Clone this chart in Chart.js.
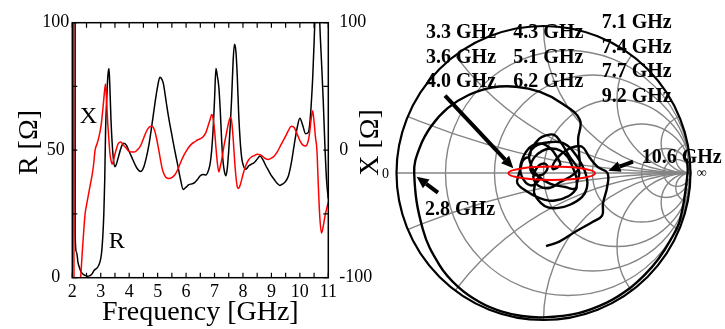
<!DOCTYPE html>
<html>
<head>
<meta charset="utf-8">
<script src="https://cdn.jsdelivr.net/npm/chart.js@4.4.1/dist/chart.umd.min.js"></script>
<style>
  html, body { margin: 0; padding: 0; background: #fff; }
  #wrap { position: relative; width: 725px; height: 329px; overflow: hidden; background: #fff; }
  #zplot { position: absolute; left: 0; top: 0; width: 400px; height: 329px; }
  #smith { position: absolute; left: 370px; top: 0; width: 355px; height: 329px; }
</style>
</head>
<body>
<div id="wrap">
  <canvas id="zplot" width="400" height="329"></canvas>
  <canvas id="smith" width="355" height="329"></canvas>
</div>
<script>
// Input impedance of the antenna, Z = R + jX, versus frequency.
const freqGHz = [
  2.00, 2.05, 2.10, 2.15, 2.20, 2.25, 2.30, 2.35, 2.40, 2.45, 2.50, 2.55, 2.60, 2.65, 2.70, 2.75,
  2.80, 2.87, 2.93, 2.98, 3.02, 3.05, 3.08, 3.11, 3.14, 3.17, 3.21, 3.25, 3.29, 3.32, 3.36, 3.40, 3.45,
  3.50, 3.55, 3.60, 3.65, 3.70, 3.75, 3.80, 3.90, 4.00, 4.10, 4.20, 4.30, 4.40, 4.50, 4.60, 4.70,
  4.80, 4.90, 5.00, 5.08, 5.15, 5.20, 5.30, 5.40, 5.50, 5.60, 5.70, 5.80, 5.90, 6.00, 6.10, 6.20,
  6.30, 6.40, 6.50, 6.60, 6.70, 6.80, 6.85, 6.90, 6.95, 7.00, 7.05, 7.10, 7.15, 7.20, 7.25, 7.30,
  7.35, 7.40, 7.45, 7.50, 7.55, 7.60, 7.65, 7.70, 7.75, 7.80, 7.85, 7.90, 7.95, 8.00, 8.10, 8.20,
  8.30, 8.40, 8.50, 8.60, 8.70, 8.80, 8.90, 9.00, 9.10, 9.20, 9.30, 9.40, 9.50, 9.60, 9.70, 9.80,
  9.90, 10.00, 10.10, 10.20, 10.30, 10.35, 10.40, 10.45, 10.50, 10.55, 10.60, 10.65, 10.70, 10.76,
  10.82, 10.88, 10.94, 11.00
];

// Resistance R [Ohm]
const resistance = [
  195, 5000, 17, 10, 6, 4, 2.5, 1.7, 1.2, 0.9, 0.7, 0.6, 0.7, 1.0, 1.6, 2.6,
  3.2, 3.8, 4.9, 6.5, 8.9, 12.4, 17.7, 25.7, 38.2, 57.8, 70, 79, 82, 75, 62, 53, 46,
  43.5, 44.5, 46.5, 48.5, 50.5, 52, 52.7, 52, 49.5, 47, 44.5, 42.5, 41.6, 43, 47, 52.5,
  60, 68, 75, 78.6, 77.8, 76.2, 69, 62, 56, 50, 44.5, 38.8, 34.6, 35.5, 36.5, 36.8,
  37.3, 38.5, 40, 40.5, 40.3, 42.5, 45, 50, 58, 69.7, 82, 79, 75, 66, 54, 45.5,
  41.5, 40, 43, 50, 59, 70, 84, 91.5, 89, 79, 64, 54, 47.5, 44.5, 42.5, 43.8,
  44.5, 45.2, 46.5, 47.7, 46.3, 44, 42, 40, 38.5, 37, 36.2, 36.8, 37.8, 40, 45, 52,
  58.5, 62.5, 59.8, 56.5, 57, 60.5, 68, 78, 92, 108, 127, 122, 100, 85,
  70, 52, 38, 31
];

// Reactance X [Ohm]
const reactance = [
  950, 0, -300, -200, -150, -120, -98, -80, -64, -50, -43, -37, -31, -25, -19, -11,
  0, 5, 9.9, 15.1, 20.6, 26.8, 33.5, 40.8, 47.8, 51.9, 36, 20, 7, -2, -8, -11, -8,
  -3, 1, 4.5, 6, 6.5, 5.5, 4, 1.5, -1, -1.5, -1.3, 0.5, 3.5, 9, 14.5, 18,
  18.8, 15, 5, -5, -13.5, -17.5, -21.5, -22.2, -21.5, -19.5, -15.5, -10, -5, -1, 2.5, 5,
  6.5, 8, 9, 10.5, 14, 21, 24.5, 28, 25, 16, 2, -10, -17, -13, -7.8, -1,
  5.5, 11, 17, 22, 25.6, 23, 11, -6, -20, -28.7, -30, -27.5, -23.5, -19, -12, -7.5,
  -5.3, -4.2, -3.2, -3.5, -5, -6.8, -7.2, -6.2, -4.5, -1.5, 2.6, 7, 11, 15.5, 18.8, 17.8,
  13, 7.5, 4.2, 3.2, 7.8, 15, 25, 31, 22, 10, 0, -28, -52, -65,
  -60, -52, -46, -41
];

const freqTicks = [2, 3, 4, 5, 6, 7, 8, 9, 10, 11];
const rTicks = [0, 50, 100];
const xTicks = [-100, 0, 100];

// Smith chart grid (normalised resistance circles and reactance arcs)
const smithResistances = [0.2, 0.5, 1, 2, 5, 10];
const smithReactances = [0.2, 0.5, 1, 2, 5, 10];
const Z0 = 50;

// Frequency markers written on the Smith chart
const markerLabels = ['3.3 GHz', '3.6 GHz', '4.0 GHz', '4.3 GHz', '5.1 GHz', '6.2 GHz',
                      '7.1 GHz', '7.4 GHz', '7.7 GHz', '9.2 GHz', '10.6 GHz', '2.8 GHz'];

const SERIF = '"Liberation Serif", "Times New Roman", Times, serif';

// ---------- left panel: R and X versus frequency ----------
const plotLeft = 72.3, plotRight = 328.3, plotTop = 22.7, plotBottom = 277.7;
const zCanvasW = 400, canvasH = 329;

const framePlugin = {
  id: 'frameAndTicks',
  afterDraw(chart) {
    const { ctx, chartArea: ca, scales } = chart;
    ctx.save();
    ctx.strokeStyle = '#000';
    ctx.lineWidth = 1.5;
    ctx.strokeRect(ca.left, ca.top, ca.right - ca.left, ca.bottom - ca.top);
    ctx.lineWidth = 1.2;
    ctx.beginPath();
    for (let v = 2; v <= 11.001; v += 0.5) {
      const p = scales.x.getPixelForValue(v);
      ctx.moveTo(p, ca.bottom); ctx.lineTo(p, ca.bottom - 5);
      ctx.moveTo(p, ca.top); ctx.lineTo(p, ca.top + 5);
    }
    for (let v = 0; v <= 100; v += 25) {
      const p = scales.yR.getPixelForValue(v);
      ctx.moveTo(ca.left, p); ctx.lineTo(ca.left + 5, p);
    }
    for (let v = -100; v <= 100; v += 50) {
      const p = scales.yX.getPixelForValue(v);
      ctx.moveTo(ca.right, p); ctx.lineTo(ca.right - 5, p);
    }
    ctx.stroke();

    // axis titles (both read bottom-to-top)
    ctx.fillStyle = '#000';
    ctx.font = '28px ' + SERIF;
    ctx.textAlign = 'center';
    ctx.textBaseline = 'alphabetic';
    const midY = 142.5;
    ctx.save(); ctx.translate(37, midY); ctx.rotate(-Math.PI / 2); ctx.fillText('R [Ω]', 0, 0); ctx.restore();
    ctx.save(); ctx.translate(378, midY); ctx.rotate(-Math.PI / 2); ctx.fillText('X [Ω]', 0, 0); ctx.restore();

    // curve names inside the plot
    ctx.font = '24px ' + SERIF;
    ctx.textBaseline = 'middle';
    ctx.fillText('X', scales.x.getPixelForValue(2.566), scales.yR.getPixelForValue(63));
    ctx.fillText('R', scales.x.getPixelForValue(3.56), scales.yR.getPixelForValue(14.2));
    ctx.restore();
  }
};

const tickFont = { family: SERIF, size: 18 };

new Chart(document.getElementById('zplot'), {
  type: 'line',
  data: {
    datasets: [
      {
        label: 'X',
        data: freqGHz.map((f, i) => ({ x: f, y: reactance[i] })),
        yAxisID: 'yX',
        borderColor: '#ff0000',
        borderWidth: 1.5,
        pointRadius: 0,
        cubicInterpolationMode: 'monotone'
      },
      {
        label: 'R',
        data: freqGHz.map((f, i) => ({ x: f, y: resistance[i] })),
        yAxisID: 'yR',
        borderColor: '#000000',
        borderWidth: 1.5,
        pointRadius: 0,
        cubicInterpolationMode: 'monotone'
      }
    ]
  },
  options: {
    responsive: false,
    animation: false,
    devicePixelRatio: 1,
    layout: { padding: { top: plotTop, left: 0, right: 0, bottom: 0 } },
    plugins: { legend: { display: false }, tooltip: { enabled: false } },
    scales: {
      x: {
        type: 'linear', position: 'bottom', min: 2, max: 11,
        afterBuildTicks: s => { s.ticks = freqTicks.map(v => ({ value: v })); },
        afterFit: s => { s.height = canvasH - plotBottom; },
        grid: { display: false, drawTicks: false },
        border: { display: false },
        ticks: { font: tickFont, color: '#000', padding: 4, maxRotation: 0, autoSkip: false },
        title: { display: true, text: 'Frequency [GHz]', color: '#000',
                 font: { family: SERIF, size: 28 }, padding: { top: 0, bottom: 0 } }
      },
      yR: {
        type: 'linear', position: 'left', min: 0, max: 100,
        afterBuildTicks: s => { s.ticks = rTicks.map(v => ({ value: v })); },
        afterFit: s => { s.width = plotLeft; },
        grid: { display: false, drawTicks: false },
        border: { display: false },
        ticks: { font: tickFont, color: '#000', padding: 3, crossAlign: 'center' }
      },
      yX: {
        type: 'linear', position: 'right', min: -100, max: 100,
        afterBuildTicks: s => { s.ticks = xTicks.map(v => ({ value: v })); },
        afterFit: s => { s.width = zCanvasW - plotRight; },
        grid: { display: false, drawTicks: false },
        border: { display: false },
        ticks: { font: tickFont, color: '#000', padding: 11, crossAlign: 'near' }
      }
    }
  },
  plugins: [framePlugin]
});

// ---------- right panel: Smith chart of the same impedance ----------
function reflection(r, x) {
  // Gamma = (Z - Z0) / (Z + Z0)
  const nr = r - Z0, dr = r + Z0;
  const d = dr * dr + x * x;
  return { x: (nr * dr + x * x) / d, y: (x * dr - nr * x) / d };
}

const gammaPath = freqGHz.map((f, i) => reflection(resistance[i], reactance[i]));

const smithGrid = {
  id: 'smithGrid',
  beforeDatasetsDraw(chart) {
    const { ctx, scales: { x: sx, y: sy } } = chart;
    const px = v => sx.getPixelForValue(v);
    const py = v => sy.getPixelForValue(v);
    const unit = px(1) - px(0);
    ctx.save();
    ctx.strokeStyle = '#858585';
    ctx.lineWidth = 1.4;
    ctx.beginPath();
    ctx.moveTo(px(-1), py(0)); ctx.lineTo(px(1), py(0));
    ctx.stroke();
    smithResistances.forEach(r => {
      ctx.beginPath();
      ctx.arc(px(r / (1 + r)), py(0), unit / (1 + r), 0, Math.PI * 2);
      ctx.stroke();
    });
    ctx.save();
    ctx.beginPath();
    ctx.arc(px(0), py(0), unit, 0, Math.PI * 2);
    ctx.clip();
    smithReactances.forEach(xv => {
      [1, -1].forEach(s => {
        ctx.beginPath();
        ctx.arc(px(1), py(s / xv), unit / xv, 0, Math.PI * 2);
        ctx.stroke();
      });
    });
    ctx.restore();
    ctx.strokeStyle = '#000';
    ctx.lineWidth = 2.2;
    ctx.beginPath();
    ctx.arc(px(0), py(0), unit, 0, Math.PI * 2);
    ctx.stroke();
    ctx.restore();
  },
  afterDatasetsDraw(chart) {
    const { ctx, scales: { x: sx, y: sy } } = chart;
    const px = v => sx.getPixelForValue(v);
    const py = v => sy.getPixelForValue(v);
    const unit = px(1) - px(0);
    ctx.save();

    // matched-band ellipse
    ctx.strokeStyle = '#ff0000';
    ctx.lineWidth = 2;
    ctx.beginPath();
    ctx.ellipse(px(0.056), py(-0.002), 0.295 * unit, 0.046 * unit, 0, 0, Math.PI * 2);
    ctx.stroke();

    // arrows
    const arrow = (x0, y0, x1, y1) => {
      const ax = px(x0), ay = py(y0), bx = px(x1), by = py(y1);
      const ang = Math.atan2(by - ay, bx - ax);
      const hl = 12, hw = 5.5;
      const cx = bx - hl * Math.cos(ang), cy = by - hl * Math.sin(ang);
      ctx.strokeStyle = '#000';
      ctx.fillStyle = '#000';
      ctx.lineWidth = 4;
      ctx.beginPath(); ctx.moveTo(ax, ay); ctx.lineTo(cx, cy); ctx.stroke();
      ctx.beginPath();
      ctx.moveTo(bx, by);
      ctx.lineTo(cx + hw * Math.sin(ang), cy - hw * Math.cos(ang));
      ctx.lineTo(cx - hw * Math.sin(ang), cy + hw * Math.cos(ang));
      ctx.closePath(); ctx.fill();
    };
    arrow(-0.670, 0.526, -0.205, 0.032);
    arrow(0.609, 0.077, 0.441, 0.016);
    arrow(-0.718, -0.134, -0.863, -0.025);

    // frequency markers
    const spots = [
      [-0.799, 0.916], [-0.799, 0.750], [-0.799, 0.587],
      [-0.205, 0.916], [-0.205, 0.750], [-0.205, 0.587],
      [0.396, 0.986], [0.396, 0.816], [0.396, 0.653], [0.396, 0.483],
      [0.668, 0.068], [-0.806, -0.286]
    ];
    ctx.fillStyle = '#000';
    ctx.font = 'bold 20px ' + SERIF;
    ctx.textAlign = 'left';
    ctx.textBaseline = 'alphabetic';
    markerLabels.forEach((t, i) => ctx.fillText(t, px(spots[i][0]), py(spots[i][1])));

    // short / open ends of the real axis
    ctx.font = '14px ' + SERIF;
    ctx.textAlign = 'center';
    ctx.fillText('0', px(-1.075), py(-0.034));
    ctx.fillText('∞', px(1.076), py(-0.027));
    ctx.restore();
  }
};

new Chart(document.getElementById('smith'), {
  type: 'scatter',
  data: {
    datasets: [{
      label: 'Gamma',
      data: gammaPath,
      showLine: true,
      borderColor: '#000',
      borderWidth: 2.4,
      pointRadius: 0,
      tension: 0.4,
      clip: false
    }]
  },
  options: {
    responsive: false,
    animation: false,
    devicePixelRatio: 1,
    layout: { padding: { left: 26.5, right: 34.5, top: 26, bottom: 9 } },
    plugins: { legend: { display: false }, tooltip: { enabled: false } },
    scales: {
      x: { type: 'linear', min: -1, max: 1, display: false },
      y: { type: 'linear', min: -1, max: 1, display: false }
    }
  },
  plugins: [smithGrid]
});
</script>
</body>
</html>
